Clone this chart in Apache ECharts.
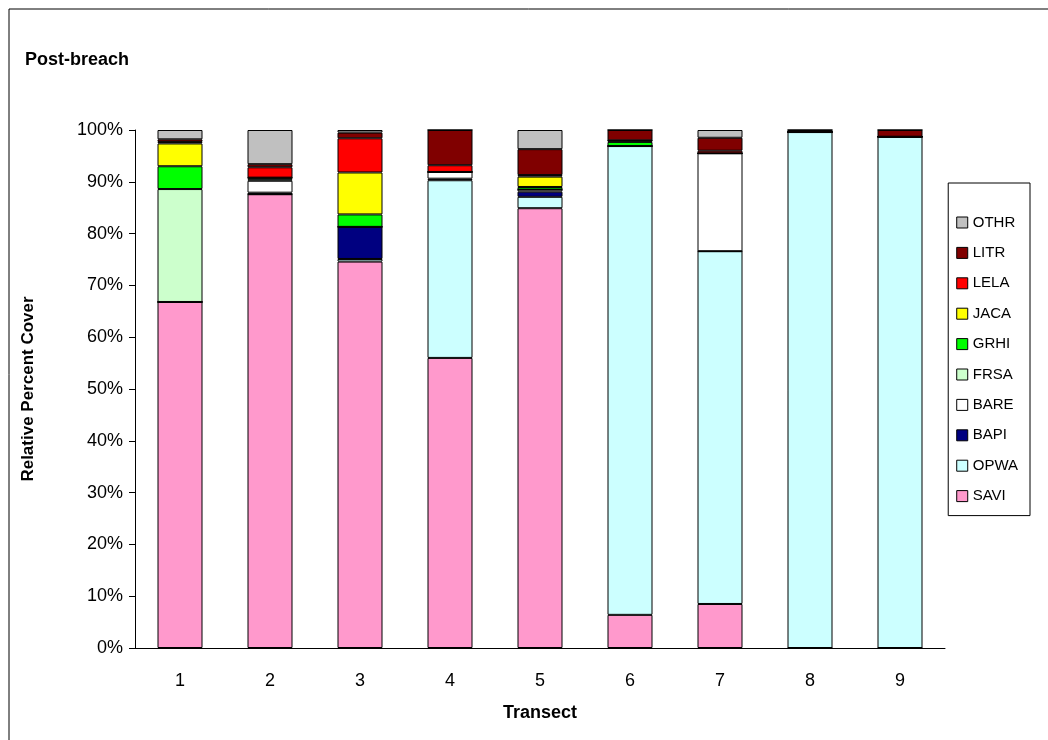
<!DOCTYPE html>
<html>
<head>
<meta charset="utf-8">
<style>
	html,body{margin:0;padding:0;background:#fff;}
	#chart{width:1048px;height:740px;}
</style>
</head>
<body>
<div id="chart"></div>
<script src="https://cdn.jsdelivr.net/npm/echarts@6/dist/echarts.min.js"></script>
<script>
var transects = ['1','2','3','4','5','6','7','8','9'];
var SAVI = [66.8, 87.6, 74.6, 56.0, 84.9, 6.4, 8.5, 0, 0];
var OPWA = [0, 0, 0.5, 34.3, 2.2, 90.5, 68.1, 99.6, 98.7];
var BAPI = [0, 0.3, 6.2, 0.3, 1.0, 0, 0, 0, 0];
var BARE = [0, 2.3, 0, 1.3, 0.4, 0, 18.9, 0, 0];
var FRSA = [21.8, 0.3, 0, 0, 0, 0, 0, 0, 0];
var GRHI = [4.4, 0.3, 2.4, 0, 0.5, 0.8, 0, 0, 0];
var JACA = [4.4, 0, 8.1, 0, 2.0, 0.3, 0, 0, 0];
var LELA = [0.3, 2.0, 6.6, 1.3, 0.3, 0, 0.5, 0, 0];
var LITR = [0.5, 0.6, 1.1, 6.8, 5.0, 2.0, 2.5, 0.4, 1.3];
var OTHR = [1.8, 6.6, 0.5, 0, 3.7, 0, 1.5, 0, 0];

var names = ['SAVI','OPWA','BAPI','BARE','FRSA','GRHI','JACA','LELA','LITR','OTHR'];
var values = [SAVI, OPWA, BAPI, BARE, FRSA, GRHI, JACA, LELA, LITR, OTHR];
var colors = ['#ff99cc','#ccffff','#000080','#ffffff','#ccffcc','#00ff00','#ffff00','#ff0000','#800000','#c0c0c0'];

var chart = echarts.init(document.getElementById('chart'));
var font = 'Liberation Sans, Arial, sans-serif';
var series = names.map(function(n, i){
	return {
		name: n, type: 'bar', stack: 'all', barWidth: '50%',
		data: values[i],
		itemStyle: {color: colors[i], borderColor: '#000', borderWidth: 1}
	};
});
chart.setOption({
	animation: false,
	textStyle: {fontFamily: font},
	graphic: [{
		type: 'polyline',
		shape: {points: [[9, 740], [9, 9], [1048, 9]]},
		style: {stroke: '#000', lineWidth: 1, fill: null}
	}],
	title: {
		text: 'Post-breach', left: 20, top: 46,
		textStyle: {fontSize: 18, fontWeight: 'bold', color: '#000', fontFamily: font}
	},
	legend: {
		orient: 'vertical', right: 18, top: 183,
		data: names.slice().reverse(),
		icon: 'rect', itemWidth: 11, itemHeight: 11, itemGap: 15.4,
		borderColor: '#000', borderWidth: 1, padding: [32, 12, 12, 8],
		itemStyle: {borderColor: '#000', borderWidth: 1},
		textStyle: {fontSize: 15, color: '#000', fontFamily: font}
	},
	grid: {left: 135, right: 103, top: 130, bottom: 92},
	xAxis: {
		type: 'category', data: transects,
		name: 'Transect', nameLocation: 'middle', nameGap: 56,
		nameTextStyle: {fontSize: 18, fontWeight: 'bold', color: '#000'},
		axisLine: {lineStyle: {color: '#000'}},
		axisTick: {lineStyle: {color: '#000'}, length: 6},
		axisLabel: {fontSize: 18, color: '#000', margin: 24}
	},
	yAxis: {
		type: 'value', min: 0, max: 100, interval: 10,
		name: 'Relative Percent Cover', nameLocation: 'middle', nameGap: 98,
		nameTextStyle: {fontSize: 17, fontWeight: 'bold', color: '#000'},
		axisLine: {show: true, lineStyle: {color: '#000'}},
		axisTick: {show: true, lineStyle: {color: '#000'}, length: 6},
		splitLine: {show: false},
		axisLabel: {fontSize: 18, color: '#000', formatter: '{value}%', margin: 12}
	},
	series: series
});
</script>
</body>
</html>
